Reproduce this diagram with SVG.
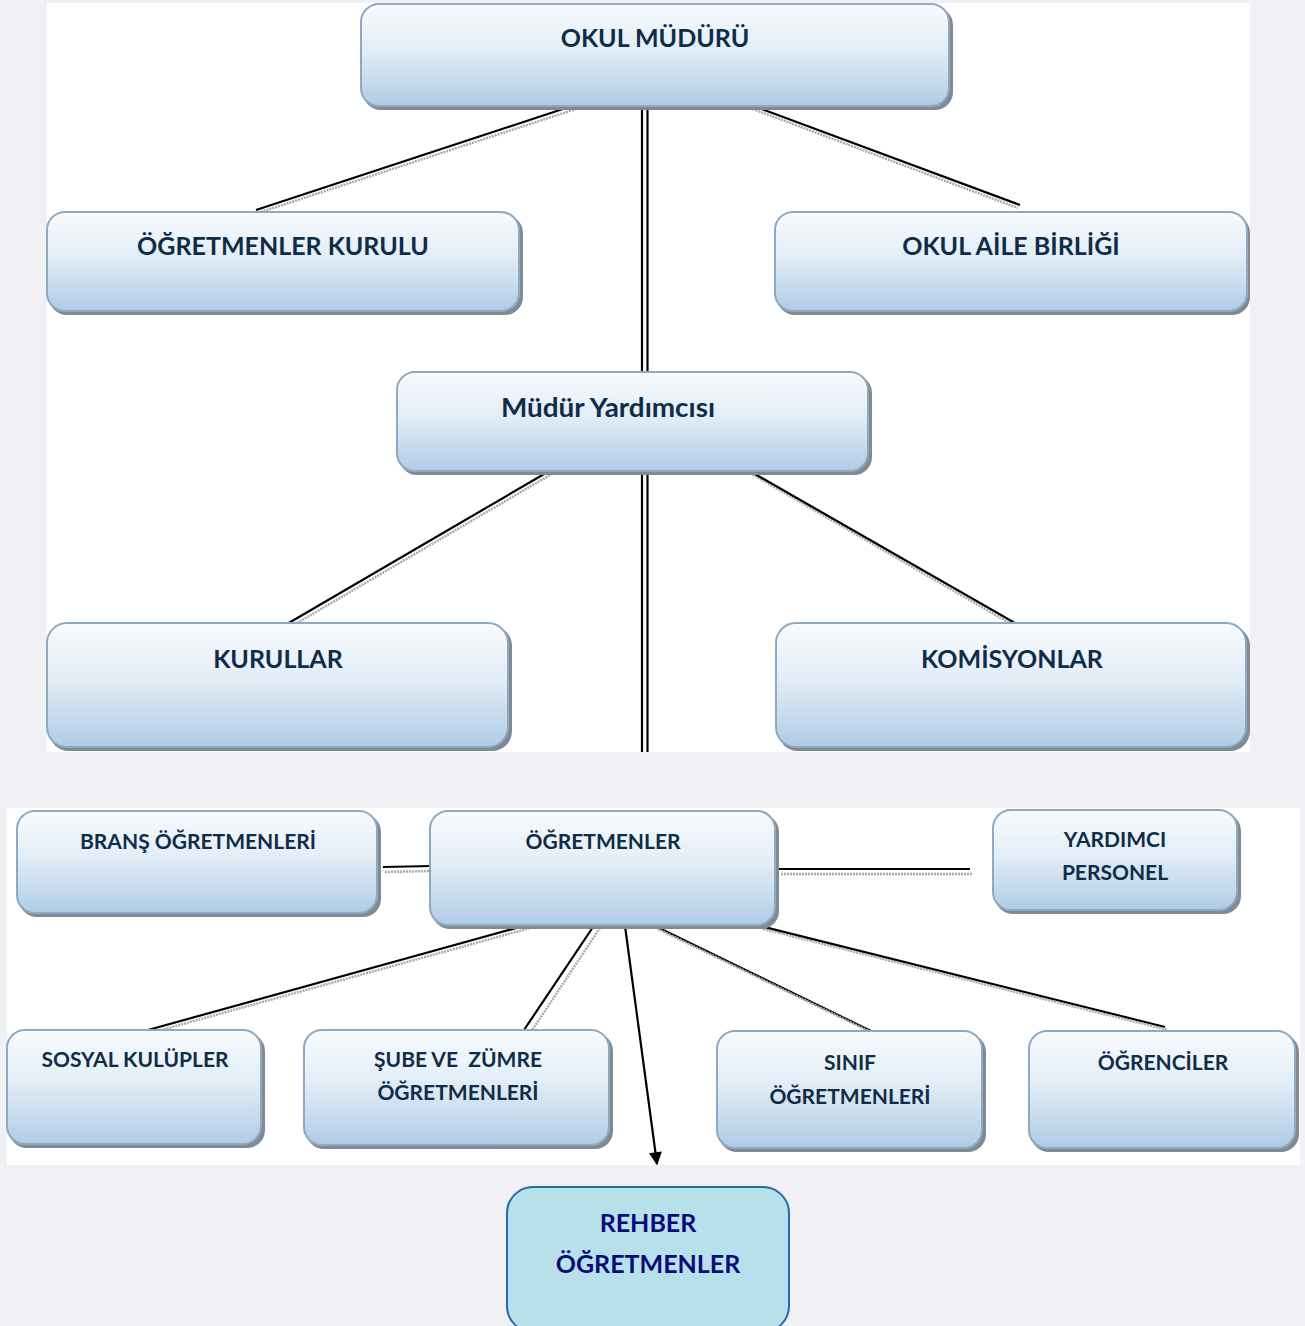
<svg xmlns="http://www.w3.org/2000/svg" width="1305" height="1326" viewBox="0 0 1305 1326">
<defs>
<linearGradient id="boxg" x1="0" y1="0" x2="0" y2="1">
<stop offset="0" stop-color="#f8fbfe"/>
<stop offset="0.45" stop-color="#e3edf6"/>
<stop offset="1" stop-color="#afcce6"/>
</linearGradient>
<marker id="arr" viewBox="0 0 10 10" refX="9" refY="5" markerWidth="7" markerHeight="6.5" orient="auto" markerUnits="userSpaceOnUse">
<path d="M0,0 L10,5 L0,10 Z" fill="#000"/>
</marker>
<marker id="arr2" viewBox="0 0 10 10" refX="9" refY="5" markerWidth="16" markerHeight="13" orient="auto" markerUnits="userSpaceOnUse">
<path d="M0,0 L10,5 L0,10 Z" fill="#000"/>
</marker>
<style>
.box{fill:url(#boxg);stroke:#8fa9c0;stroke-width:2}
.sh{fill:#7f8a94}
.t{font-family:Lato,"Open Sans","Liberation Sans",sans-serif;font-weight:bold;fill:#0f2c48;text-anchor:middle}
.big{font-size:25px}
.sm{font-size:21px}
.ln{stroke:#000;stroke-width:2.2;fill:none}
.gl{stroke:#a9a9a9;stroke-width:2.5;fill:none;stroke-dasharray:2 1}
</style>
</defs>
<rect x="0" y="0" width="1305" height="1326" fill="#f0f0f5"/>
<rect x="47" y="3" width="1203" height="749" fill="#fff"/>
<rect x="7" y="808" width="1293" height="357" fill="#fff"/>

<g id="connectors">
<line class="gl" x1="585" y1="106" x2="261" y2="212"/>
<line class="ln" x1="581" y1="103" x2="256" y2="210"/>
<line class="gl" x1="750" y1="108" x2="1018" y2="208"/>
<line class="ln" x1="748" y1="104" x2="1020" y2="205"/>
<line class="ln" x1="642" y1="107" x2="642" y2="372"/>
<line class="ln" x1="647.5" y1="107" x2="647.5" y2="372"/>
<line class="ln" x1="642" y1="473" x2="642" y2="752"/>
<line class="ln" x1="647.5" y1="473" x2="647.5" y2="752"/>
<line class="gl" x1="555" y1="472" x2="292" y2="626"/>
<line class="ln" x1="551" y1="470" x2="287" y2="624"/>
<line class="gl" x1="750" y1="473" x2="1018" y2="628"/>
<line class="ln" x1="748" y1="470" x2="1020" y2="626"/>
<line class="ln" x1="383" y1="867" x2="432" y2="866"/>
<line class="gl" x1="385" y1="872" x2="432" y2="871"/>
<line class="ln" x1="779" y1="869" x2="970" y2="869"/>
<line class="gl" x1="781" y1="874" x2="972" y2="874"/>
<line class="ln" x1="527" y1="925" x2="148" y2="1030"/>
<line class="gl" x1="530" y1="928" x2="154" y2="1032"/>
<line class="ln" x1="593" y1="927" x2="524" y2="1030"/>
<line class="gl" x1="600" y1="928" x2="531" y2="1032"/>
<line class="ln" x1="625" y1="926" x2="657" y2="1164" marker-end="url(#arr2)"/>
<line class="ln" x1="655" y1="926" x2="871" y2="1031"/>
<line class="gl" x1="658" y1="929" x2="873" y2="1033"/>
<line class="ln" x1="760" y1="926" x2="1165" y2="1027"/>
<line class="gl" x1="763" y1="929" x2="1168" y2="1030"/>
</g>

<g id="okul-muduru">
<rect class="sh" x="363" y="7" width="590" height="103" rx="18"/>
<rect class="box" x="361" y="4" width="588" height="102" rx="18"/>
<text class="t big" x="655" y="47">OKUL MÜDÜRÜ</text>
</g>
<g id="ogretmenler-kurulu">
<rect class="sh" x="49" y="215" width="474" height="100" rx="18"/>
<rect class="box" x="47" y="212" width="472" height="99" rx="18"/>
<text class="t big" x="283" y="255">ÖĞRETMENLER KURULU</text>
</g>
<g id="okul-aile-birligi">
<rect class="sh" x="777" y="215" width="473" height="100" rx="18"/>
<rect class="box" x="775" y="212" width="472" height="99" rx="18"/>
<text class="t big" x="1011" y="255">OKUL AİLE BİRLİĞİ</text>
</g>
<g id="mudur-yardimcisi">
<rect class="sh" x="399" y="375" width="473" height="100" rx="18"/>
<rect class="box" x="397" y="372" width="471" height="99" rx="18"/>
<text class="t" x="608" y="417" style="font-size:27px" textLength="214" lengthAdjust="spacingAndGlyphs">Müdür Yardımcısı</text>
</g>
<g id="kurullar">
<rect class="sh" x="49" y="626" width="463" height="125" rx="20"/>
<rect class="box" x="47" y="623" width="461" height="124" rx="20"/>
<text class="t big" x="278" y="668">KURULLAR</text>
</g>
<g id="komisyonlar">
<rect class="sh" x="778" y="626" width="472" height="125" rx="20"/>
<rect class="box" x="776" y="623" width="470" height="124" rx="20"/>
<text class="t big" x="1012" y="668">KOMİSYONLAR</text>
</g>
<g id="brans-ogretmenleri">
<rect class="sh" x="19" y="814" width="362" height="103" rx="18"/>
<rect class="box" x="17" y="811" width="360" height="102" rx="18"/>
<text class="t sm" x="198" y="849">BRANŞ ÖĞRETMENLERİ</text>
</g>
<g id="ogretmenler">
<rect class="sh" x="432" y="814" width="347" height="115" rx="18"/>
<rect class="box" x="430" y="811" width="345" height="114" rx="18"/>
<text class="t sm" x="603" y="849">ÖĞRETMENLER</text>
</g>
<g id="yardimci-personel">
<rect class="sh" x="995" y="813" width="246" height="101" rx="18"/>
<rect class="box" x="993" y="810" width="244" height="100" rx="18"/>
<text class="t sm" x="1115" y="847">YARDIMCI</text>
<text class="t sm" x="1115" y="880">PERSONEL</text>
</g>
<g id="sosyal-kulupler">
<rect class="sh" x="9" y="1033" width="256" height="115" rx="18"/>
<rect class="box" x="7" y="1030" width="254" height="114" rx="18"/>
<text class="t sm" x="135" y="1067">SOSYAL KULÜPLER</text>
</g>
<g id="sube-zumre">
<rect class="sh" x="306" y="1033" width="307" height="116" rx="18"/>
<rect class="box" x="304" y="1030" width="305" height="115" rx="18"/>
<text class="t sm" x="458" y="1067" xml:space="preserve">ŞUBE VE  ZÜMRE</text>
<text class="t sm" x="458" y="1100">ÖĞRETMENLERİ</text>
</g>
<g id="sinif-ogretmenleri">
<rect class="sh" x="719" y="1034" width="267" height="118" rx="18"/>
<rect class="box" x="717" y="1031" width="265" height="117" rx="18"/>
<text class="t sm" x="850" y="1070">SINIF</text>
<text class="t sm" x="850" y="1104">ÖĞRETMENLERİ</text>
</g>
<g id="ogrenciler">
<rect class="sh" x="1031" y="1034" width="268" height="118" rx="18"/>
<rect class="box" x="1029" y="1031" width="266" height="117" rx="18"/>
<text class="t sm" x="1163" y="1070">ÖĞRENCİLER</text>
</g>
<g id="rehber-ogretmenler">
<rect x="507" y="1187" width="282" height="145" rx="26" fill="#b7e0ea" stroke="#1f6ea6" stroke-width="2"/>
<text class="t" x="648" y="1232" style="font-size:25px;fill:#0b0b78">REHBER</text>
<text class="t" x="648" y="1273" style="font-size:25px;fill:#0b0b78">ÖĞRETMENLER</text>
</g>
</svg>
